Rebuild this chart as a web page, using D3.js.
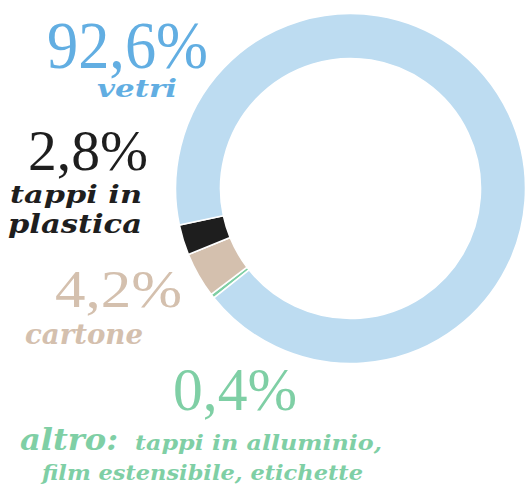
<!DOCTYPE html>
<html>
<head>
<meta charset="utf-8">
<script src="https://cdn.jsdelivr.net/npm/d3@7"></script>
<style>
  body { margin: 0; background: #fff; }
  svg { display: block; }
  .num { font-family: "Liberation Serif", Tinos, "DejaVu Serif", serif; }
  .name { font-family: "DejaVu Serif", serif; font-weight: bold; font-style: italic; }
</style>
</head>
<body>
<div id="chart"></div>
<script>
// data
var categories = ["altro", "cartone", "tappi in plastica", "vetri"];
var values = [0.4, 4.2, 2.8, 92.6];
var ringColors = ["#7fcfa5", "#d4c0ae", "#1e1e1e", "#bddcf1"];
var textColors = ["#7fcfa5", "#d4c0ae", "#1e1e1e", "#62aee2"];

var width = 526, height = 486;

var svg = d3.select("#chart")
    .append("svg")
    .attr("width", width)
    .attr("height", height);

// donut
var cx = 350.5, cy = 188.5, outerR = 175, innerR = 130;
var start = 231.3 * Math.PI / 180;

var pie = d3.pie()
    .sort(null)
    .value(function(d) { return d; })
    .startAngle(start)
    .endAngle(start + 2 * Math.PI);

var arc = d3.arc()
    .innerRadius(innerR)
    .outerRadius(outerR);

svg.append("g")
    .attr("transform", "translate(" + cx + "," + cy + ")")
    .selectAll("path")
    .data(pie(values))
    .enter().append("path")
    .attr("d", arc)
    .style("fill", function(d, i) { return ringColors[i]; })
    .style("stroke", "#fff")
    .style("stroke-width", 1.6);

// labels
function pct(v) { return v.toFixed(1).replace(".", ",") + "%"; }

// position/size of the percentage for each category
var numLayout = [
  {x: 173, y: 410, size: 62, len: 124},
  {x: 55, y: 307, size: 53, len: 127},
  {x: 28, y: 170, size: 56, len: 120},
  {x: 47, y: 68, size: 68, len: 161}
];

svg.selectAll(".num")
    .data(values)
    .enter().append("text")
    .attr("class", "num")
    .attr("x", function(d, i) { return numLayout[i].x; })
    .attr("y", function(d, i) { return numLayout[i].y; })
    .attr("textLength", function(d, i) { return numLayout[i].len; })
    .attr("lengthAdjust", "spacingAndGlyphs")
    .style("font-size", function(d, i) { return numLayout[i].size + "px"; })
    .style("fill", function(d, i) { return textColors[i]; })
    .text(function(d) { return pct(d); });

// category names
var nameLines = [
  {c: 3, text: "vetri", x: 97, y: 97, size: 25, len: 80},
  {c: 2, text: "tappi in", x: 10, y: 203, size: 25, len: 132},
  {c: 2, text: "plastica", x: 8, y: 233, size: 26, len: 134},
  {c: 1, text: "cartone", x: 25, y: 344, size: 27, len: 118},
  {c: 0, text: "altro:", x: 20, y: 450, size: 30, len: 98},
  {c: 0, text: "tappi in alluminio,", x: 135, y: 450, size: 20, len: 247},
  {c: 0, text: "film estensibile, etichette", x: 42, y: 480, size: 20, len: 321}
];

svg.selectAll(".name")
    .data(nameLines)
    .enter().append("text")
    .attr("class", "name")
    .attr("x", function(d) { return d.x; })
    .attr("y", function(d) { return d.y; })
    .attr("textLength", function(d) { return d.len; })
    .attr("lengthAdjust", "spacingAndGlyphs")
    .style("font-size", function(d) { return d.size + "px"; })
    .style("fill", function(d) { return textColors[d.c]; })
    .text(function(d) { return d.text; });
</script>
</body>
</html>
